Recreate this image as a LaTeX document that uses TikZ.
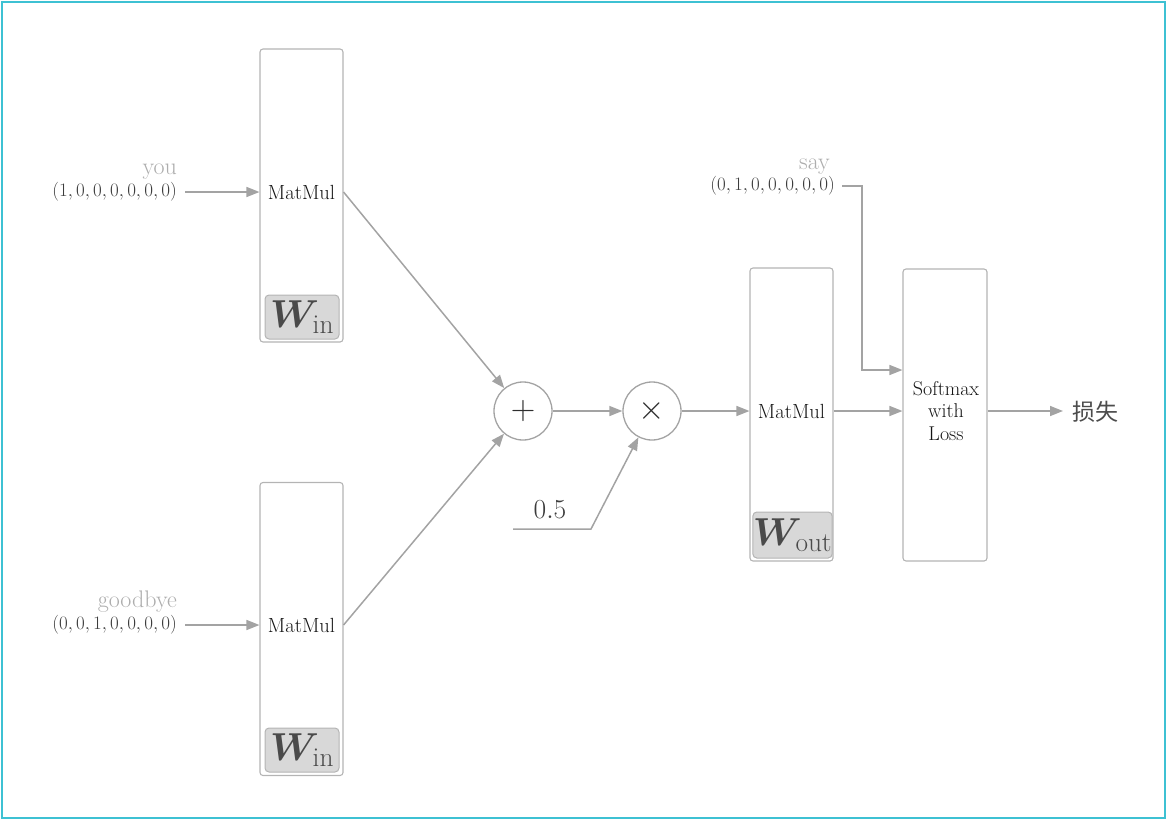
\RequirePackage{fix-cm}
\documentclass[tikz,border=0pt]{standalone}
\usepackage{amsmath,bm}
\usepackage{fontspec}
\newfontfamily\cjk{Noto Sans CJK SC}
\usetikzlibrary{arrows.meta}
\definecolor{lnc}{HTML}{A3A3A3}
\definecolor{boxc}{HTML}{B4B4B4}
\definecolor{wfill}{HTML}{D8D8D8}
\definecolor{wtext}{HTML}{4A4A4A}
\definecolor{vtext}{HTML}{3C3C3C}
\definecolor{ltext}{HTML}{ADADAD}
\definecolor{frame}{HTML}{3EC1D3}
\tikzset{
  layerbox/.style={draw=boxc, line width=1.1pt, rounded corners=3pt, minimum width=83pt, minimum height=293pt, inner sep=0pt},
  wbox/.style={draw=boxc, fill=wfill, line width=1pt, rounded corners=4pt, minimum width=74pt, minimum height=44pt, inner sep=0pt, text=wtext, font=\fontsize{39}{42}\selectfont},
  optext/.style={font=\fontsize{20.5}{24}\selectfont, text=black!92, inner sep=0pt},
  vec/.style={font=\fontsize{19}{22}\selectfont, text=vtext, inner sep=0pt, anchor=east},
  word/.style={font=\fontsize{24}{26}\selectfont, text=ltext, inner sep=0pt, anchor=east},
  opcircle/.style={circle, draw=lnc, line width=1.3pt, minimum size=58pt, inner sep=0pt, font=\fontsize{34}{36}\selectfont, text=black!82},
  arr/.style={draw=lnc, line width=1.5pt, -{Triangle[length=13pt,width=10pt]}},
  ln/.style={draw=lnc, line width=1.5pt},
}
\begin{document}
\begin{tikzpicture}[x=1pt,y=-1pt]
\useasboundingbox (0,0) rectangle (1167,820);
\draw[frame, line width=2pt] (2,2) rectangle (1165,818);

% top MatMul
\node[layerbox] (m1) at (301.5,195.5) {};
\node[optext] (t1) at (301.5,192) {MatMul};
\node[wbox] (w1) at (302,317) {$\bm{W}_{\mathrm{in}}$};
\node[word] (you) at (177,172) {you};
\node[vec] (v1) at (177,192) {$(1,0,0,0,0,0,0)$};
\coordinate (v1s) at (185,192);
\draw[arr] (v1s) -- (t1 -| m1.west);

% bottom MatMul
\node[layerbox] (m2) at (301.5,629) {};
\node[optext] (t2) at (301.5,625) {MatMul};
\node[wbox] (w2) at (302,750) {$\bm{W}_{\mathrm{in}}$};
\node[word] (gb) at (177,602) {goodbye};
\node[vec] (v2) at (177,625) {$(0,0,1,0,0,0,0)$};
\coordinate (v2s) at (185,625);
\draw[arr] (v2s) -- (t2 -| m2.west);

% plus and times
\node[opcircle] (p) at (523,411) {$+$};
\node[opcircle] (x) at (652,411) {$\times$};
\draw[arr] (t1 -| m1.east) -- (p);
\draw[arr] (t2 -| m2.east) -- (p);
\draw[arr] (p) -- (x);

\node[font=\fontsize{27.5}{30}\selectfont, text=vtext, inner sep=0pt] (half) at (550,510) {$0.5$};
\coordinate (h1) at (513,529);
\coordinate (h2) at (591,529);
\draw[arr] (h1) -- (h2) -- (x);

% out MatMul
\node[layerbox] (m3) at (791.5,414.5) {};
\node[optext] (t3) at (791.5,411) {MatMul};
\node[wbox, minimum width=75pt, minimum height=46pt] (w3) at (792.5,535) {$\bm{W}_{\mathrm{out}}$};
\draw[arr] (x) -- (t3 -| m3.west);

% softmax
\node[layerbox, minimum width=84pt, minimum height=292pt] (s) at (945,415) {};
\node[optext, align=center, font=\fontsize{20}{22.5}\selectfont] (st) at (946,411) {Softmax\\with\\Loss};
\draw[arr] (t3 -| m3.east) -- (t3 -| s.west);

\node[word] (say) at (830,167) {say};
\node[vec] (v3) at (835,186) {$(0,1,0,0,0,0,0)$};
\coordinate (v3s) at (842,186);
\coordinate (v3c) at (862,186);
\coordinate (v3d) at (862,370);
\draw[arr] (v3s) -- (v3c) -- (v3d) -- (v3d -| s.west);

\node[font=\cjk\fontsize{23}{26}\selectfont, text=black!70, inner sep=0pt] (loss) at (1095,412) {损失};
\coordinate (le) at (1063,411);
\draw[arr] (st -| s.east) -- (le);
\end{tikzpicture}
\end{document}
